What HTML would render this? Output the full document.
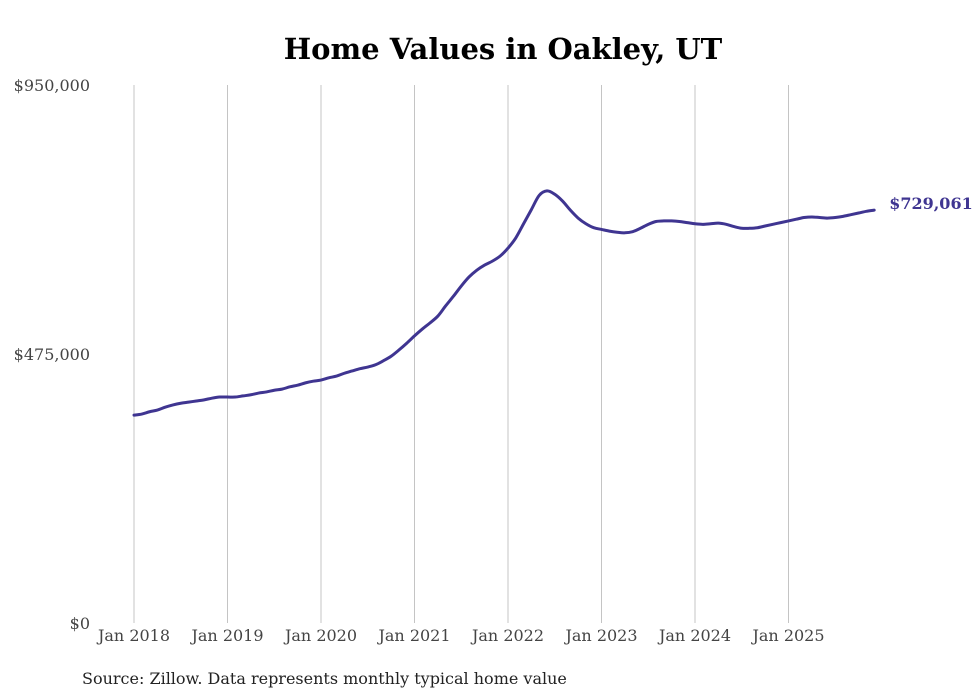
<!DOCTYPE html>
<html><head><meta charset="utf-8"><style>
html,body{margin:0;padding:0;background:#fff;}
svg{display:block;font-family:"DejaVu Serif","Liberation Serif",serif;}
</style></head><body>
<svg id="chart" width="980" height="699" viewBox="0 0 980 699">
<text x="503" y="59" text-anchor="middle" font-size="29" font-weight="bold" fill="#000">Home Values in Oakley, UT</text>
<g id="grid"></g><g id="yaxis"></g><g id="xaxis"></g><g id="series"></g>
<text x="82" y="684" font-size="16" fill="#222">Source: Zillow. Data represents monthly typical home value</text>
</svg>
<script>
const yTicks=[0,475000,950000];
const yTickLabels=["$0","$475,000","$950,000"];
const xYears=[2018,2019,2020,2021,2022,2023,2024,2025];
const xTickLabels=["Jan 2018","Jan 2019","Jan 2020","Jan 2021","Jan 2022","Jan 2023","Jan 2024","Jan 2025"];
const values=[
367000,369000,373000,376000,381000,385000,388000,390000,392000,394000,397000,399000,
399000,399000,401000,403000,406000,408000,411000,413000,417000,420000,424000,427000,
429000,433000,436000,441000,445000,449000,452000,456000,463000,471000,482000,494000,
507000,519000,530000,542000,560000,577000,595000,611000,623000,632000,639000,648000,
662000,680000,705000,730000,755000,763000,757000,745000,729000,715000,705000,698000,
695000,692000,690000,689000,691000,697000,704000,709000,710000,710000,709000,707000,
705000,704000,705000,706000,704000,700000,697000,697000,698000,701000,704000,707000,
710000,713000,716000,717000,716000,715000,716000,718000,721000,724000,727000,729061];
const endLabel="$729,061";
const NS="http://www.w3.org/2000/svg";
const x=t=>134+(t-2018)*93.5;
const y=v=>623-v/950000*538;
function mk(tag,attrs,parent,text){const e=document.createElementNS(NS,tag);for(const k in attrs)e.setAttribute(k,attrs[k]);if(text!=null)e.textContent=text;parent.appendChild(e);return e;}
const grid=document.getElementById('grid'),ya=document.getElementById('yaxis'),xa=document.getElementById('xaxis'),se=document.getElementById('series');
xYears.forEach((yr,i)=>{
 const g=mk('line',{x1:x(yr),x2:x(yr),y1:85,y2:623,stroke:'#c4c4c4','stroke-width':1},grid);
 
 
 const t=mk('text',{x:x(yr),y:641,'text-anchor':'middle','font-size':16,fill:'#444'},xa,xTickLabels[i]);
 
 
});
yTicks.forEach((v,i)=>{
 const t=mk('text',{x:90,y:y(v)+6,'text-anchor':'end','font-size':16,fill:'#444'},ya,yTickLabels[i]);
 
 
});
const pts=values.map((v,i)=>[x(2018+i/12),y(v)]);
let d='M'+pts[0][0]+','+pts[0][1];
for(let i=1;i<pts.length;i++){const p0=pts[Math.max(0,i-2)],p1=pts[i-1],p2=pts[i],p3=pts[Math.min(pts.length-1,i+1)];
 d+=' C'+(p1[0]+(p2[0]-p0[0])/6)+','+(p1[1]+(p2[1]-p0[1])/6)+' '+(p2[0]-(p3[0]-p1[0])/6)+','+(p2[1]-(p3[1]-p1[1])/6)+' '+p2[0]+','+p2[1];}
const line=mk('path',{d:d,fill:'none',stroke:'#3f3591','stroke-width':3,'stroke-linejoin':'round','stroke-linecap':'round'},se);


const last=pts[pts.length-1];
const lb=mk('text',{x:last[0]+15,y:last[1]-1,'font-size':16,'font-weight':'bold',fill:'#3f3591'},se,endLabel);


</script>
</body></html>
